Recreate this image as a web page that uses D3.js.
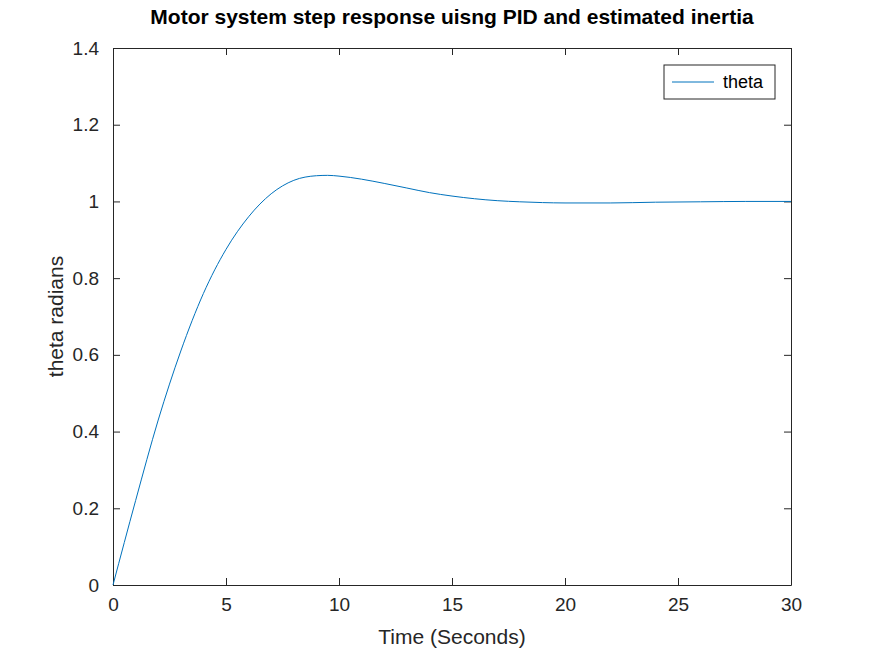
<!DOCTYPE html>
<html><head><meta charset="utf-8">
<script src="https://cdn.jsdelivr.net/npm/d3@7"></script>
<style>body{margin:0;background:#fff}text{font-family:"Liberation Sans",Arial,sans-serif}</style>
</head><body><div id="chart"></div>
<script>
var time = [0,1,2,3,4,5,6,7,8,9,9.5,10,11,12,13,14,15,16,17,18,19,20,22,24,26,28,30];
var theta = [0,0.22,0.43,0.61,0.76,0.875,0.96,1.02,1.055,1.067,1.068,1.066,1.058,1.047,1.035,1.023,1.014,1.007,1.002,0.999,0.997,0.996,0.996,0.998,0.999,1.0,1.0];
var xTicks = [0,5,10,15,20,25,30];
var yTicks = [0,0.2,0.4,0.6,0.8,1,1.2,1.4];

var margin = {left:113, right:83, top:48, bottom:71};
var W = 874, H = 656;
var width = W - margin.left - margin.right, height = H - margin.top - margin.bottom;

var svg = d3.select("#chart").append("svg").attr("width", W).attr("height", H)
  .append("g").attr("transform", "translate(" + margin.left + "," + margin.top + ")");

var x = d3.scaleLinear().domain([0,30]).range([0,width]);
var y = d3.scaleLinear().domain([0,1.4]).range([height,0]);

function style(g){
  g.select(".domain").attr("stroke","#262626");
  g.selectAll(".tick line").attr("stroke","#262626");
  g.selectAll("text").attr("font-size","19px").attr("fill","#262626");
}
svg.append("g").attr("transform","translate(0,"+height+")")
  .call(d3.axisBottom(x).tickValues(xTicks).tickSizeInner(-7).tickSizeOuter(0).tickPadding(13)).call(style);
svg.append("g").call(d3.axisTop(x).tickValues(xTicks).tickSizeInner(-7).tickSizeOuter(0).tickFormat("")).call(style);
svg.append("g").call(d3.axisLeft(y).tickValues(yTicks).tickSizeInner(-7).tickSizeOuter(0).tickPadding(14)
  .tickFormat(function(d){return d;})).call(style);
svg.append("g").attr("transform","translate("+width+",0)")
  .call(d3.axisRight(y).tickValues(yTicks).tickSizeInner(-7).tickSizeOuter(0).tickFormat("")).call(style);

var line = d3.line().x(function(d,i){return x(time[i]);}).y(function(d){return y(d);}).curve(d3.curveMonotoneX);
svg.append("path").datum(theta).attr("d", line).attr("fill","none").attr("stroke","#0072bd").attr("stroke-width",1);

svg.append("text").attr("x", width/2).attr("y", -24).attr("text-anchor","middle")
  .attr("font-size","21px").attr("font-weight","bold").text("Motor system step response uisng PID and estimated inertia");
svg.append("text").attr("x", width/2).attr("y", height+59).attr("text-anchor","middle")
  .attr("font-size","21px").attr("fill","#262626").text("Time (Seconds)");
svg.append("text").attr("transform","rotate(-90)").attr("x", -height/2).attr("y", -50).attr("text-anchor","middle")
  .attr("font-size","21px").attr("fill","#262626").text("theta radians");

var lg = svg.append("g").attr("transform","translate("+(664-margin.left)+","+(65-margin.top)+")");
lg.append("rect").attr("width",111).attr("height",34).attr("fill","#fff").attr("stroke","#262626");
lg.append("line").attr("x1",8).attr("x2",50).attr("y1",17).attr("y2",17).attr("stroke","#0072bd");
lg.append("text").attr("x",59).attr("y",23).attr("font-size","18px").attr("fill","#000").text("theta");
</script></body></html>
